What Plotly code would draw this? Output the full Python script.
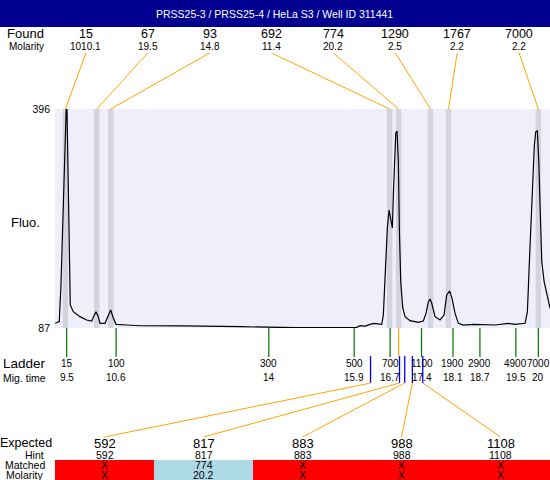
import plotly.graph_objects as go

# ---------------- data ----------------
title_text = "PRSS25-3 / PRSS25-4 / HeLa S3 / Well ID 311441"

# electropherogram trace (migration time [s], fluorescence)
trace_time = [9.24, 9.335, 9.373, 9.402, 9.424, 9.447, 9.469, 9.489, 9.507, 9.536, 9.558, 9.58,
              9.647, 9.796, 9.945, 10.057, 10.115, 10.152, 10.204, 10.242, 10.353, 10.426, 10.48,
              10.538, 10.598, 10.836, 11.132, 12.1, 12.869, 13.36, 14.606, 15.586, 15.958,
              16.031, 16.142, 16.327, 16.514, 16.55, 16.572, 16.603, 16.639, 16.677, 16.715,
              16.75, 16.773, 16.795, 16.826, 16.855, 16.884, 16.906, 16.937, 16.982, 17.033,
              17.144, 17.329, 17.44, 17.5, 17.552, 17.59, 17.627, 17.701, 17.812, 17.901,
              17.961, 18.024, 18.079, 18.146, 18.22, 18.331, 18.554, 18.777, 19.037, 19.333,
              19.483, 19.705, 19.757, 19.801, 19.832, 19.877, 19.912, 19.943, 19.979, 20.01,
              20.039, 20.077, 20.129, 20.189, 20.262]
trace_fluo = [93.6, 96.2, 147.7, 218.2, 274.7, 321.6, 373.4, 396, 396, 274.7, 171.7, 119.5,
              110, 103, 98.3, 96.9, 105.3, 110, 103, 93.6, 93.6, 105.3, 112.4,
              101.1, 92.2, 91.2, 90.2, 90.0, 89.8, 88.8, 87.4, 88, 88,
              90.2, 89.8, 93.6, 92.2, 105.3, 133.6, 171.7, 228.1, 253.5, 242.2,
              228.1, 274.7, 321.6, 362.1, 365, 321.6, 228.1, 152.3, 115.2, 103,
              97.3, 95, 96.9, 107.7, 124.1, 127.9, 121.9, 103, 98.3, 105.3,
              133.6, 139.2, 128.9, 107.7, 93.6, 91.2, 92.2, 92.2, 91.2, 93.6,
              92.2, 93.6, 110, 180.6, 228.1, 298.2, 345.2, 364, 365, 321.6,
              251.1, 180.6, 152.3, 133.6, 114.8]

y_ticks = [87, 396]

found_sizes = ["15", "67", "93", "692", "774", "1290", "1767", "7000"]
found_molarity = ["1010.1", "19.5", "14.8", "11.4", "20.2", "2.5", "2.2", "2.2"]
found_times = [9.47, 10.17, 10.48, 16.69, 16.89, 17.60, 18.00, 20.00]

ladder_sizes = ["15", "100", "300", "500", "700", "1100", "1900", "2900", "4900", "7000"]
ladder_times = [9.5, 10.6, 14, 15.9, 16.7, 17.4, 18.1, 18.7, 19.5, 20]
ladder_time_labels = ["9.5", "10.6", "14", "15.9", "16.7", "17.4", "18.1", "18.7", "19.5", "20"]

expected_sizes = ["592", "817", "883", "988", "1108"]
hint_sizes = ["592", "817", "883", "988", "1108"]
expected_times = [16.265, 16.91, 17.026, 17.196, 17.427]
matched_sizes = ["X", "774", "X", "X", "X"]
matched_molarity = ["X", "20.2", "X", "X", "X"]
matched_found_index = [None, 4, None, None, None]

# ---------------- layout helpers ----------------
W, H = 550, 480
ML, MR, MT, MB = 55, 0, 109, 152
PW, PH = W - ML - MR, H - MT - MB
X_RANGE = [9.24, 20.26]
Y_RANGE = [87, 396]
FONT = "Liberation Sans, Arial, sans-serif"
ORANGE = "#FFA500"


def px_x(px):
    return (px - ML) / PW


def px_y(py):
    return (H - MB - py) / PH


def t_paper(t):
    return (t - X_RANGE[0]) / (X_RANGE[1] - X_RANGE[0])


fig = go.Figure()
fig.add_trace(go.Scatter(x=trace_time, y=trace_fluo, mode="lines",
                         line=dict(color="black", width=1.2), hoverinfo="skip",
                         showlegend=False))

shapes = []
annotations = []


def text(x, y, s, size, anchor="center", color="black", xref="paper"):
    annotations.append(dict(x=x, y=y, xref=xref, yref="paper", text=s, showarrow=False,
                            xanchor=anchor, yanchor="middle", borderpad=0,
                            font=dict(family=FONT, size=size, color=color)))


# title bar
shapes.append(dict(type="rect", xref="paper", yref="paper", x0=px_x(0), x1=1.0,
                   y0=px_y(27), y1=px_y(-2), fillcolor="#000090", line=dict(width=0)))
text(px_x(274), px_y(13.5), title_text, 10.5, color="white")

# found peaks: bands, labels and connectors
n_found = len(found_sizes)
for i, (s, m, t) in enumerate(zip(found_sizes, found_molarity, found_times)):
    shapes.append(dict(type="rect", xref="x", yref="paper", x0=t - 0.06, x1=t + 0.06,
                       y0=0, y1=1, fillcolor="#D4D4E0", line=dict(width=0), layer="below"))
    cx = (i + 0.5) / n_found
    text(cx, px_y(34), s, 12.5)
    text(cx, px_y(46.5), m, 10)
    shapes.append(dict(type="line", xref="paper", yref="paper", x0=cx, y0=px_y(53),
                       x1=t_paper(t), y1=1.0, line=dict(color=ORANGE, width=1)))

text(px_x(45), px_y(34), "Found", 13, anchor="right")
text(px_x(45), px_y(46.5), "Molarity", 10, anchor="right")
text(px_x(41), px_y(222), "Fluo.", 13, anchor="right")

# ladder
for s, t, tl in zip(ladder_sizes, ladder_times, ladder_time_labels):
    shapes.append(dict(type="line", xref="x", yref="paper", x0=t, x1=t, y0=0, y1=px_y(357),
                       line=dict(color="#007000", width=1.2)))
    text(t, px_y(363), s, 10, xref="x")
    text(t, px_y(377.5), tl, 10, xref="x")
text(px_x(47), px_y(363), "Ladder", 13.5, anchor="right")
text(px_x(47), px_y(377.5), "Mig. time", 10.5, anchor="right")

# expected / matched
n_exp = len(expected_sizes)
for i, (e, h, t, ms, mm, fi) in enumerate(zip(expected_sizes, hint_sizes, expected_times,
                                               matched_sizes, matched_molarity,
                                               matched_found_index)):
    cx = (i + 0.5) / n_exp
    if fi is not None:
        ft = found_times[fi]
        shapes.append(dict(type="line", xref="x", yref="paper", x0=ft, x1=ft, y0=0,
                           y1=px_y(356), line=dict(color=ORANGE, width=1.2)))
    shapes.append(dict(type="line", xref="x", yref="paper", x0=t, x1=t, y0=px_y(356),
                       y1=px_y(383), line=dict(color="blue", width=1.3)))
    shapes.append(dict(type="line", xref="paper", yref="paper", x0=t_paper(t), y0=px_y(383),
                       x1=cx, y1=px_y(437), line=dict(color=ORANGE, width=1)))
    shapes.append(dict(type="rect", xref="paper", yref="paper", x0=i / n_exp,
                       x1=(i + 1) / n_exp, y0=px_y(482), y1=px_y(460),
                       fillcolor=("#ADD8E6" if fi is not None else "#FF0000"),
                       line=dict(width=0)))
    text(cx, px_y(443), e, 13)
    text(cx, px_y(454.5), h, 10.5)
    text(cx, px_y(465), ms, 10.5)
    text(cx, px_y(474.5), mm, 10.5)

text(px_x(53), px_y(443), "Expected", 12.5, anchor="right")
text(px_x(45), px_y(454.5), "Hint", 10.5, anchor="right")
text(px_x(46), px_y(465), "Matched", 10.5, anchor="right")
text(px_x(45), px_y(474.5), "Molarity", 10.5, anchor="right")

fig.update_layout(
    width=W, height=H,
    margin=dict(l=ML, r=MR, t=MT, b=MB, pad=0),
    paper_bgcolor="white",
    plot_bgcolor="#EFEFFB",
    showlegend=False,
    shapes=shapes,
    annotations=annotations,
    font=dict(family=FONT, size=10, color="black"),
    xaxis=dict(range=X_RANGE, showgrid=False, zeroline=False, showticklabels=False,
               showline=False, ticks="", fixedrange=True),
    yaxis=dict(range=Y_RANGE, showgrid=False, zeroline=False, showline=False, ticks="",
               tickvals=y_ticks, ticktext=[str(v) for v in y_ticks],
               tickfont=dict(family=FONT, size=10.5, color="black"),
               ticklabelstandoff=4, fixedrange=True),
)

fig.write_html("out.html", config={"displayModeBar": False},
               post_script="document.body.style.margin='0';document.body.style.overflow='hidden';")
